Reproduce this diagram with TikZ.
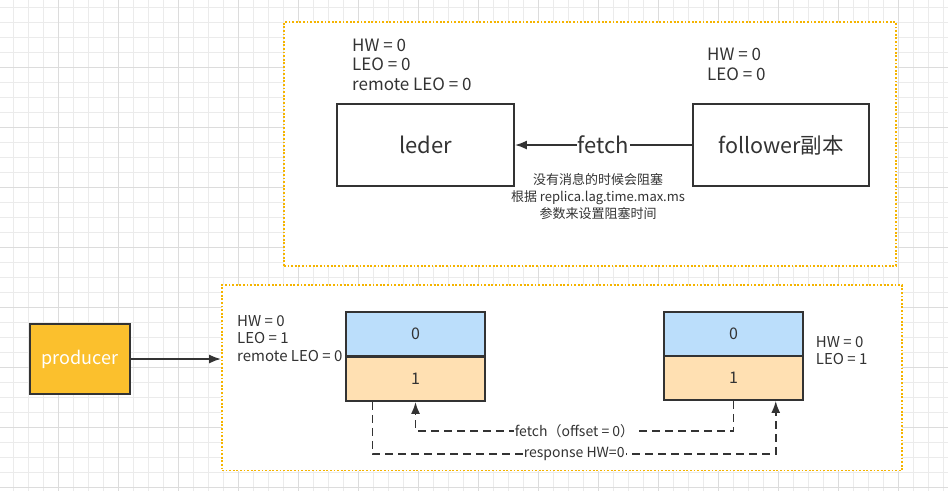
\documentclass[tikz,border=0pt]{standalone}
\usepackage{fontspec}
\setmainfont{Noto Sans CJK SC}
\usetikzlibrary{calc}
\usetikzlibrary{arrows.meta}
\definecolor{inkgray}{HTML}{333333}
\definecolor{zoneorange}{HTML}{F5B400}
\definecolor{prodyellow}{HTML}{FBC02D}
\definecolor{cellblue}{HTML}{BBDEFB}
\definecolor{cellorange}{HTML}{FFE0B2}
\definecolor{gridminor}{HTML}{EBEBEB}
\definecolor{gridmajor}{HTML}{DCDCDC}

\begin{document}
\begin{tikzpicture}[x=1pt, y=-1pt,
	box/.style={draw=inkgray, line width=1.8pt, fill=white, inner sep=0pt, text=inkgray},
	cell/.style={box, minimum width=139pt, font=\fontsize{16}{18}\selectfont},
	zone/.style={draw=zoneorange, line width=1.8pt, dash pattern=on 1.8pt off 1.8pt, fill=white, inner sep=0pt},
	info/.style={inner sep=0pt, align=left, anchor=west, text=inkgray},
	dashline/.style={draw=inkgray, line width=1.8pt, dash pattern=on 8pt off 5pt},
	>={Latex[length=12pt, width=9pt]}]
			\useasboundingbox (0,0) rectangle (948,491);

			\foreach \x in {0,...,62} {
				\draw[gridminor, line width=0.8pt] ({13.3+15*\x},0) -- ({13.3+15*\x},491);
			}
			\foreach \y in {0,...,32} {
				\draw[gridminor, line width=0.8pt] (0,{7.3+15*\y}) -- (948,{7.3+15*\y});
			}
			\foreach \x in {0,...,14} {
				\draw[gridmajor, line width=0.8pt] ({58.3+60*\x},0) -- ({58.3+60*\x},491);
			}
			\foreach \y in {0,...,7} {
				\draw[gridmajor, line width=0.8pt] (0,{67.3+60*\y}) -- (948,{67.3+60*\y});
			}

			\node[zone, minimum width=612pt, minimum height=244pt] (topzone) at (590,144) {};
			\node[zone, minimum width=680pt, minimum height=185.5pt] (bottomzone) at (562,377.75) {};

			\node[box, minimum width=177pt, minimum height=82pt, font=\fontsize{22}{25}\selectfont] (lederbox) at (425.5,145) {leder};
			\node[box, minimum width=176pt, minimum height=82pt, font=\fontsize{21.5}{25}\selectfont] (followerbox) at (781,145) {follower副本};
			\draw[->, inkgray, line width=1.8pt] (followerbox) -- (lederbox) node[midway, fill=white, inner sep=1pt, text=inkgray, font=\fontsize{22}{25}\selectfont] {fetch};

			\node[info, font=\fontsize{17}{19.7}\selectfont] (lederinfo) at (352,64.6) {HW = 0\\LEO = 0\\remote LEO = 0};
			\node[info, font=\fontsize{17}{19.7}\selectfont] (followerinfo) at (707,64.3) {HW = 0\\LEO = 0};
			\node[inner sep=0pt, align=center, text=inkgray, font=\fontsize{13}{17}\selectfont] (blocknote) at (598,197) {没有消息的时候会阻塞\\根据 replica.lag.time.max.ms\\参数来设置阻塞时间};

			\node[box, fill=prodyellow, text=white, minimum width=100pt, minimum height=70pt, font=\fontsize{18}{20}\selectfont] (producer) at (80,359) {producer};
			\draw[->, inkgray, line width=1.8pt] (producer.east) -- (producer.east -| bottomzone.west);

			\node[cell, fill=cellblue, minimum height=43.5pt] (lcell0) at (415.5,333.75) {0};
			\node[cell, fill=cellorange, minimum height=44pt] (lcell1) at (415.5,379) {1};
			\node[cell, fill=cellblue, minimum height=44pt] (rcell0) at (733.5,334) {0};
			\node[cell, fill=cellorange, minimum height=44pt] (rcell1) at (733.5,378) {1};

			\node[info, font=\fontsize{15}{17.3}\selectfont] (linfo) at (237,338.5) {HW = 0\\LEO = 1\\remote LEO = 0};
			\node[info, font=\fontsize{15}{17.3}\selectfont] (rinfo) at (815.7,350.4) {HW = 0\\LEO = 1};

			\coordinate (respstart) at ($(lcell1.south west)!0.195!(lcell1.south east)$);
			\coordinate (respend) at ($(rcell1.south west)!0.8!(rcell1.south east)$);
			\draw[dashline, ->] (rcell1.south) -- ++(0,30) -| (lcell1.south) node[pos=0.25, fill=white, inner sep=1pt, text=inkgray, font=\fontsize{14}{16}\selectfont] {fetch（offset = 0）};
			\draw[dashline, ->] (respstart) -- ++(0,52.3) -| (respend) node[pos=0.25, fill=white, inner sep=1pt, text=inkgray, font=\fontsize{14}{16}\selectfont] {response HW=0};
		\end{tikzpicture}
\end{document}
